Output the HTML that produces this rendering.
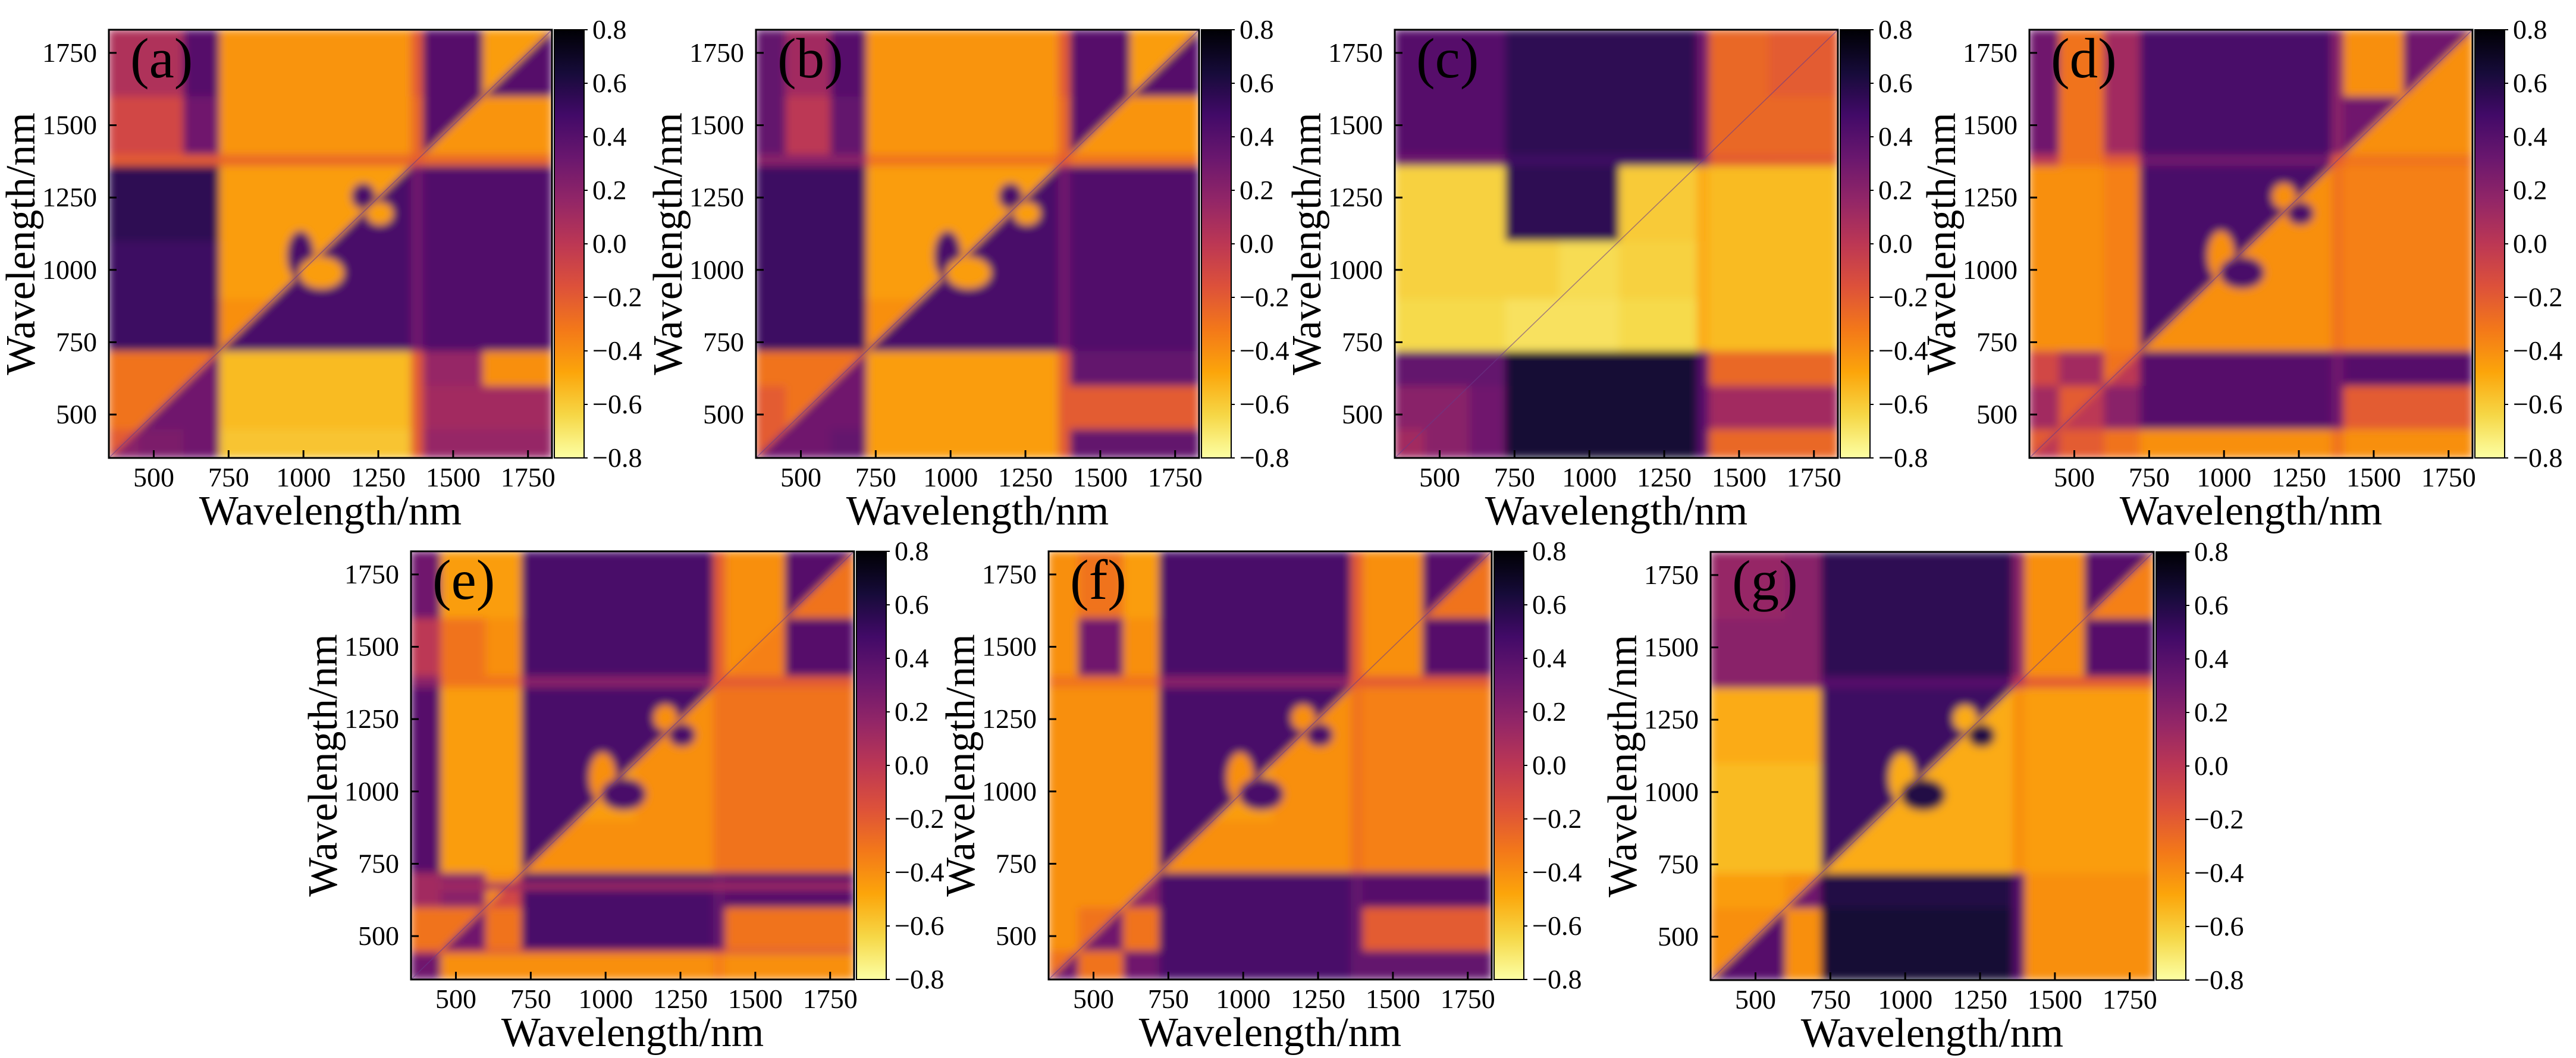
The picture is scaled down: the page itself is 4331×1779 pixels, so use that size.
<!DOCTYPE html>
<html><head><meta charset="utf-8">
<style>
html,body{margin:0;padding:0;background:#fff;}
svg{display:block;}
svg text{font-family:"Liberation Serif","Times New Roman",serif !important;fill:#000;}
</style></head>
<body>
<svg id="fig" xmlns="http://www.w3.org/2000/svg" width="4331" height="1779" viewBox="0 0 4331 1779" font-family="Liberation Serif, serif">
<defs>
<filter id="soft" x="-5%" y="-5%" width="110%" height="110%"><feGaussianBlur stdDeviation="7"/></filter>
<linearGradient id="cbgrad" x1="0" y1="0" x2="0" y2="1">
<stop offset="0" stop-color="#000004"/><stop offset="0.1" stop-color="#160b39"/><stop offset="0.2" stop-color="#420a68"/><stop offset="0.3" stop-color="#6a176e"/><stop offset="0.4" stop-color="#932667"/><stop offset="0.5" stop-color="#bc3754"/><stop offset="0.6" stop-color="#dd513a"/><stop offset="0.7" stop-color="#f37819"/><stop offset="0.8" stop-color="#fca50a"/><stop offset="0.9" stop-color="#f6d746"/><stop offset="1" stop-color="#fcffa4"/>
</linearGradient>
</defs>
</svg>
<script>
const bands=[350,450,600,720,900,1100,1360,1400,1600,1830];
const axisTicks=[500,750,1000,1250,1500,1750];
const cbTicks=[0.8,0.6,0.4,0.2,0.0,-0.2,-0.4,-0.6,-0.8];
const cbLabels=["0.8","0.6","0.4","0.2","0.0","\u22120.2","\u22120.4","\u22120.6","\u22120.8"];
const panelLabels=["(a)","(b)","(c)","(d)","(e)","(f)","(g)"];

const matA=[
[0.2,0.25,0.3,-0.58,-0.58,-0.58,-0.2,0.15,0.15],
[-0.3,0.3,0.3,-0.55,-0.55,-0.55,-0.2,0.1,0.1],
[-0.3,-0.3,0.3,-0.55,-0.55,-0.55,-0.2,0.15,-0.4],
[0.5,0.5,0.5,0.45,0.45,0.45,0.3,0.42,0.42],
[0.5,0.5,0.5,-0.45,0.45,0.45,0.3,0.42,0.42],
[0.55,0.55,0.55,-0.45,-0.45,0.45,0.3,0.42,0.42],
[-0.2,-0.2,-0.2,-0.25,-0.25,-0.25,-0.2,-0.25,-0.25],
[-0.1,-0.1,0.3,-0.42,-0.42,-0.42,-0.25,-0.42,-0.42],
[0.05,0.05,0.4,-0.42,-0.42,-0.42,-0.2,0.4,0.4]];
const diagA=[-0.2,-0.3,-0.3,-0.4,-0.45,-0.45,-0.2,0.4,-0.45];
const blobsA=[[990,1050,45,85,0.45],[1060,990,75,55,-0.45],[1200,1255,40,45,0.45],[1255,1195,45,40,-0.45]];

const matB=[
[0.3,0.3,0.35,-0.45,-0.45,-0.45,-0.2,0.35,0.35],
[-0.2,0.3,0.3,-0.45,-0.45,-0.45,-0.2,-0.2,-0.2],
[-0.3,-0.3,0.3,-0.45,-0.45,-0.45,-0.2,0.35,0.35],
[0.5,0.5,0.5,0.45,0.45,0.45,0.3,0.42,0.42],
[0.5,0.5,0.5,-0.45,0.45,0.45,0.3,0.42,0.42],
[0.5,0.5,0.5,-0.45,-0.45,0.45,0.3,0.42,0.42],
[0.2,0.2,0.2,-0.3,-0.3,-0.3,-0.2,-0.3,-0.3],
[0.35,0.0,0.35,-0.42,-0.42,-0.42,-0.25,-0.42,-0.42],
[0.35,0.1,0.4,-0.42,-0.42,-0.42,-0.2,0.4,0.4]];
const diagB=[-0.2,-0.3,-0.3,-0.4,-0.45,-0.45,-0.2,0.4,-0.45];
const blobsB=[[990,1050,45,85,0.45],[1060,990,75,55,-0.45],[1200,1255,40,45,0.45],[1255,1195,45,40,-0.45]];

const matC=[
[0.1,0.2,0.3,0.65,0.65,0.65,0.4,-0.25,-0.25],
[0.2,0.2,0.3,0.65,0.65,0.65,0.4,0.1,0.1],
[0.35,0.35,0.35,0.65,0.65,0.65,0.4,-0.25,-0.25],
[-0.65,-0.65,-0.65,-0.68,-0.68,-0.65,-0.5,-0.55,-0.55],
[-0.62,-0.62,-0.62,-0.62,-0.66,-0.62,-0.5,-0.55,-0.55],
[-0.62,-0.62,-0.62,0.55,0.55,-0.6,-0.5,-0.55,-0.55],
[0.3,0.3,0.3,0.5,0.5,0.5,0.3,-0.2,-0.2],
[0.4,0.4,0.4,0.55,0.55,0.55,0.3,-0.25,-0.25],
[0.4,0.4,0.4,0.55,0.55,0.55,0.3,-0.25,-0.2]];
const diagC=[0.1,0.2,0.35,-0.68,-0.66,-0.6,0.3,-0.25,-0.2];
const blobsC=[];

const matD=[
[0.0,-0.2,-0.3,-0.4,-0.4,-0.4,-0.3,-0.4,-0.4],
[0.1,0.0,0.2,0.4,0.4,0.4,0.3,-0.2,-0.2],
[-0.1,0.1,0.0,0.4,0.4,0.4,0.3,0.4,0.4],
[-0.4,-0.4,-0.35,-0.4,-0.4,-0.4,-0.3,-0.35,-0.35],
[-0.4,-0.4,-0.35,0.45,-0.4,-0.4,-0.3,-0.35,-0.35],
[-0.4,-0.4,-0.35,0.45,0.45,-0.4,-0.3,-0.35,-0.35],
[0.0,-0.3,-0.2,0.3,0.3,0.3,-0.2,-0.3,-0.3],
[0.3,-0.3,0.1,0.45,0.45,0.45,0.2,-0.4,-0.4],
[0.3,-0.3,0.1,0.45,0.45,0.45,0.2,-0.4,-0.4]];
const diagD=[-0.2,-0.2,-0.3,0.45,0.45,0.45,-0.2,0.3,0.3];
const blobsD=[[990,1050,45,85,-0.4],[1060,990,75,55,0.45],[1200,1255,40,45,-0.4],[1255,1195,45,40,0.45]];

const matE=[
[0.3,-0.4,-0.4,-0.4,-0.4,-0.4,-0.35,-0.4,-0.4],
[-0.3,0.3,-0.3,0.45,0.45,0.45,0.35,-0.3,-0.3],
[0.1,0.2,-0.1,0.45,0.45,0.45,0.35,0.4,0.4],
[0.4,-0.45,-0.45,-0.4,-0.4,-0.4,-0.3,-0.3,-0.3],
[0.4,-0.45,-0.45,0.45,-0.45,-0.4,-0.3,-0.3,-0.3],
[0.4,-0.45,-0.45,0.45,0.45,-0.4,-0.3,-0.3,-0.3],
[0.2,-0.3,-0.3,0.2,0.2,0.2,-0.2,-0.2,-0.2],
[0.0,-0.3,-0.4,0.45,0.45,0.45,-0.2,-0.35,0.4],
[0.3,-0.45,-0.45,0.45,0.45,0.45,-0.2,-0.4,-0.3]];
const diagE=[0.3,-0.3,-0.4,0.45,0.45,0.45,-0.2,-0.4,0.4];
const blobsE=[[990,1050,45,85,-0.4],[1060,990,75,55,0.45],[1200,1255,40,45,-0.4],[1255,1195,45,40,0.45]];
const stripesE=[[660,685,0.1],[440,452,-0.1]];

const matF=[
[0.3,-0.3,0.3,0.45,0.45,0.45,0.35,0.35,0.35],
[-0.4,0.3,-0.3,0.45,0.45,0.45,0.35,-0.2,-0.2],
[-0.4,-0.4,0.2,0.45,0.45,0.45,0.35,0.4,0.4],
[-0.4,-0.4,-0.4,-0.4,-0.4,-0.4,-0.3,-0.35,-0.35],
[-0.4,-0.4,-0.4,0.45,-0.45,-0.4,-0.3,-0.35,-0.35],
[-0.4,-0.4,-0.4,0.45,0.45,-0.4,-0.3,-0.35,-0.35],
[-0.3,-0.3,-0.3,0.2,0.2,0.2,-0.2,-0.2,-0.2],
[-0.4,0.3,-0.4,0.45,0.45,0.45,-0.2,-0.4,0.4],
[-0.4,-0.3,-0.45,0.45,0.45,0.45,-0.2,-0.4,-0.3]];
const diagF=[-0.3,-0.3,-0.4,0.45,0.45,0.45,-0.2,-0.4,0.4];
const blobsF=[[990,1050,45,85,-0.4],[1060,990,75,55,0.45],[1200,1255,40,45,-0.4],[1255,1195,45,40,0.45]];

const matG=[
[0.4,0.4,-0.4,0.65,0.65,0.65,0.4,-0.4,-0.4],
[-0.4,0.4,-0.4,0.65,0.65,0.65,0.4,-0.4,-0.4],
[-0.45,-0.45,0.3,0.6,0.6,0.6,0.4,-0.4,-0.4],
[-0.55,-0.55,-0.55,-0.5,-0.5,-0.5,-0.4,-0.45,-0.45],
[-0.55,-0.55,-0.55,0.5,-0.5,-0.5,-0.4,-0.45,-0.45],
[-0.5,-0.5,-0.5,0.5,0.5,-0.5,-0.4,-0.45,-0.45],
[0.2,0.2,0.2,0.4,0.4,0.4,0.0,-0.2,-0.2],
[0.2,0.2,0.2,0.55,0.55,0.55,0.2,-0.4,0.4],
[0.15,0.15,0.2,0.55,0.55,0.55,0.2,-0.4,-0.35]];
const diagG=[-0.4,-0.4,-0.4,0.5,0.5,0.5,0.0,-0.4,0.4];
const blobsG=[[990,1050,45,85,-0.5],[1060,990,75,55,0.6],[1200,1255,40,45,-0.5],[1255,1195,45,40,0.6]];

const panelData=[
{m:matA,d:diagA,b:blobsA,s:[]},{m:matB,d:diagB,b:blobsB,s:[]},{m:matC,d:diagC,b:blobsC,s:[]},
{m:matD,d:diagD,b:blobsD,s:[]},{m:matE,d:diagE,b:blobsE,s:stripesE},{m:matF,d:diagF,b:blobsF,s:[]},{m:matG,d:diagG,b:blobsG,s:[]}];
const layout=[[183,50],[1271,50],[2345,50],[3412,50],[691,927],[1763,927],[2876,928]];
const PW=745, PH=720, DMIN=350, DMAX=1830;
const FONT='Liberation Serif, serif';

const stops=[[0,0,4],[22,11,57],[66,10,104],[106,23,110],[147,38,103],[188,55,84],[221,81,58],[243,120,25],[252,165,10],[246,215,70],[252,255,164]];
function color(v){
  let t=(0.8-v)/1.6; t=Math.max(0,Math.min(1,t));
  const f=t*10, i=Math.min(9,Math.floor(f)), u=f-i;
  const a=stops[i], b=stops[i+1];
  return 'rgb('+[0,1,2].map(k=>Math.round(a[k]+(b[k]-a[k])*u)).join(',')+')';
}
const NS='http://www.w3.org/2000/svg';
const svg=document.getElementById('fig');
function mk(tag,attrs,parent){const e=document.createElementNS(NS,tag);for(const k in attrs)e.setAttribute(k,attrs[k]);(parent||svg).appendChild(e);return e;}

panelData.forEach((pd,p)=>{
  const L=layout[p][0], T=layout[p][1];
  const X=v=>L+(v-DMIN)/(DMAX-DMIN)*PW;
  const Y=v=>T+PH-(v-DMIN)/(DMAX-DMIN)*PH;
  const g=mk('g',{'font-family':FONT});
  
  
  const cp=mk('clipPath',{id:'clip'+p},svg.querySelector('defs'));
  mk('rect',{x:L,y:T,width:PW,height:PH},cp);
  const cells=mk('g',{'clip-path':'url(#clip'+p+')'},g);
  const inner=mk('g',{filter:'url(#soft)'},cells);
  const n=bands.length-1;
  for(let r=0;r<n;r++)for(let c=0;c<n;c++){
    const x0=X(bands[c]),x1=X(bands[c+1]),y0=Y(bands[r+1]),y1=Y(bands[r]);
    if(r===c){
      const lo=mk('polygon',{points:`${x0},${y1} ${x1},${y1} ${x1},${y0}`,fill:color(pd.m[r][c]),stroke:color(pd.m[r][c]),'stroke-width':1},inner);
      
      
      const up=mk('polygon',{points:`${x0},${y1} ${x0},${y0} ${x1},${y0}`,fill:color(pd.d[r]),stroke:color(pd.d[r]),'stroke-width':1},inner);
      
      
    }else{
      const e=mk('rect',{x:x0-0.5,y:y0-0.5,width:x1-x0+1,height:y1-y0+1,fill:color(pd.m[r][c])},inner);
      
      
    }
  }
  pd.s.forEach(s=>{
    const e=mk('rect',{x:L,y:Y(s[1]),width:PW,height:Y(s[0])-Y(s[1]),fill:color(s[2])},inner);
    
    
  });
  pd.b.forEach(b=>{
    const e=mk('ellipse',{cx:X(b[0]),cy:Y(b[1]),rx:X(b[0]+b[2])-X(b[0]),ry:Y(b[1])-Y(b[1]+b[3]),fill:color(b[4])},inner);
    
    
  });
  const dl=mk('line',{x1:X(DMIN),y1:Y(DMIN),x2:X(DMAX),y2:Y(DMAX),stroke:'#6a3a8a','stroke-width':1.5,opacity:0.6},cells);
  
  
  const fr=mk('rect',{x:L,y:T,width:PW,height:PH,fill:'none',stroke:'#000','stroke-width':3},g);
  
  
  axisTicks.forEach(t=>{
    mk('line',{x1:X(t),y1:T+PH,x2:X(t),y2:T+PH-13,stroke:'#000','stroke-width':3},g);
    mk('line',{x1:L,y1:Y(t),x2:L+13,y2:Y(t),stroke:'#000','stroke-width':3},g);
    const xl=mk('text',{x:X(t),y:T+PH+48,'font-size':46,'text-anchor':'middle','font-family':FONT},g);
    xl.textContent=t;
    
    
    const yl=mk('text',{x:L-20,y:Y(t)+15,'font-size':46,'text-anchor':'end','font-family':FONT},g);
    yl.textContent=t;
    
    
  });
  const xt=mk('text',{x:L+PW/2,y:T+PH+112,'font-size':70,'text-anchor':'middle','font-family':FONT},g);
  xt.textContent='Wavelength/nm';
  
  
  const yt=mk('text',{x:0,y:0,'font-size':70,'text-anchor':'middle','font-family':FONT,transform:`translate(${L-125},${T+PH/2}) rotate(-90)`},g);
  yt.textContent='Wavelength/nm';
  
  
  const pl=mk('text',{x:L+36,y:T+80,'font-size':95,'font-family':FONT},g);
  pl.textContent=panelLabels[p];
  
  
  const cbx=L+PW+4, cbw=50;
  const cb=mk('rect',{x:cbx,y:T,width:cbw,height:PH,fill:'url(#cbgrad)',stroke:'#000','stroke-width':2},g);
  
  
  cbTicks.forEach((v,i)=>{
    const yy=T+(0.8-v)/1.6*PH;
    mk('line',{x1:cbx+cbw,y1:yy,x2:cbx+cbw+6,y2:yy,stroke:'#000','stroke-width':2},g);
    const tl=mk('text',{x:cbx+cbw+14,y:yy+15,'font-size':46,'font-family':FONT},g);
    tl.textContent=cbLabels[i];
    
    
  });
});
</script>
</body></html>
